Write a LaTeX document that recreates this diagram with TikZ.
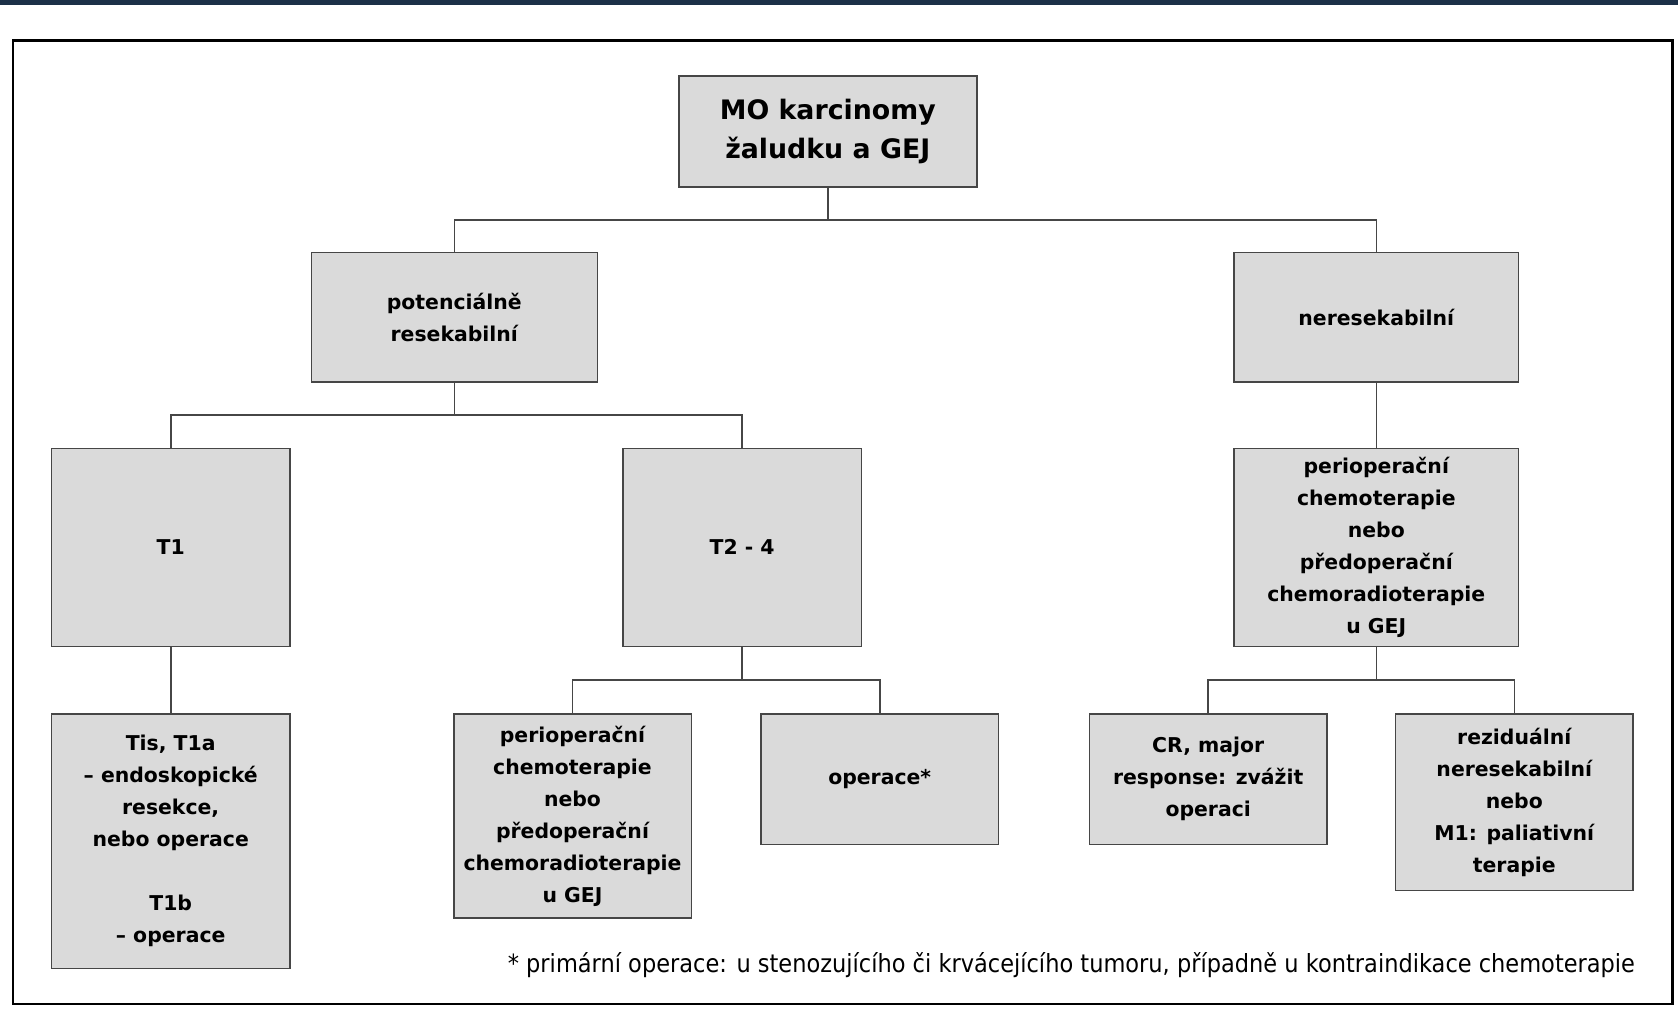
\documentclass[tikz,border=0pt]{standalone}
\usepackage{fontspec}
\setmainfont{DejaVu Sans}
\newfontfamily\notefont[FakeStretch=0.9]{DejaVu Sans}
\usetikzlibrary{calc}

\definecolor{boxgray}{RGB}{218,218,218}
\definecolor{linegray}{RGB}{70,70,70}
\definecolor{bandblue}{RGB}{28,48,72}

\tikzset{
  box/.style={draw=linegray, fill=boxgray, line width=0.8pt, align=center,
    inner sep=0pt, font=\bfseries\fontsize{10.2}{16}\selectfont},
  rootbox/.style={box, font=\bfseries\fontsize{13.4}{19.3}\selectfont},
  link/.style={draw=linegray, line width=0.8pt}
}

\begin{document}
\begin{tikzpicture}[x=0.5pt, y=-0.5pt]
    \useasboundingbox (0,0) rectangle (1678,1029);
    \fill[bandblue] (0,0) rectangle (1678,5);
    \draw[line width=1.3pt] (12.8,40.7) rectangle (1672.7,1004);

    % upper levels
    \node[rootbox, minimum width=149pt, minimum height=55.5pt] (root) at (827.8,131.7) {MO karcinomy\\žaludku a GEJ};
    \node[box, minimum width=143pt, minimum height=64.7pt] (pot) at (454.3,317.3) {potenciálně\\resekabilní};
    \node[box, minimum width=142.3pt, minimum height=64.7pt] (neres) at (1376.3,317.3) {neresekabilní};

    \node[box, minimum width=119.3pt, minimum height=99pt] (t1) at (170.7,547.4) {T1};
    \node[box, minimum width=119.3pt, minimum height=99pt] (t24) at (742.2,547.4) {T2 - 4};
    \node[box, minimum width=142.3pt, minimum height=99pt] (chemo) at (1376.3,547.4) {perioperační\\chemoterapie\\nebo\\předoperační\\chemoradioterapie\\u GEJ};

    % lowest level
    \node[box, minimum width=119.3pt, minimum height=127.3pt] (tis) at (170.7,841.2) {Tis, T1a\\– endoskopické\\resekce,\\nebo operace\\[16pt]T1b\\– operace};
    \node[box, minimum width=118.8pt, minimum height=102.2pt] (periop) at (572.5,816) {perioperační\\chemoterapie\\nebo\\předoperační\\chemoradioterapie\\u GEJ};
    \node[box, minimum width=118.8pt, minimum height=65.3pt] (oper) at (879.7,779.1) {operace*};
    \node[box, minimum width=118.8pt, minimum height=65.3pt] (cr) at (1208.2,779.1) {CR, major\\response: zvážit\\operaci};
    \node[box, minimum width=118.8pt, minimum height=88.3pt] (rez) at (1514.3,802.1) {reziduální\\neresekabilní\\nebo\\M1: paliativní\\terapie};

    \node[anchor=east, font=\notefont\fontsize{12.5}{14}\selectfont] (note) at (1642,965) {* primární operace: u stenozujícího či krvácejícího tumoru, případně u kontraindikace chemoterapie};

    % connectors
    \draw[link] (root.south) |- ($(root.south)!0.5!(pot.north)$) -| (pot.north);
    \draw[link] (root.south) |- ($(root.south)!0.5!(neres.north)$) -| (neres.north);
    \draw[link] (pot.south) |- ($(pot.south)!0.5!(t1.north)$) -| (t1.north);
    \draw[link] (pot.south) |- ($(pot.south)!0.5!(t24.north)$) -| (t24.north);
    \draw[link] (neres.south) -- (chemo.north);
    \draw[link] (t1.south) -- (tis.north);
    \draw[link] (t24.south) |- ($(t24.south)!0.5!(periop.north)$) -| (periop.north);
    \draw[link] (t24.south) |- ($(t24.south)!0.5!(oper.north)$) -| (oper.north);
    \draw[link] (chemo.south) |- ($(chemo.south)!0.5!(cr.north)$) -| (cr.north);
    \draw[link] (chemo.south) |- ($(chemo.south)!0.5!(rez.north)$) -| (rez.north);
\end{tikzpicture}
\end{document}
